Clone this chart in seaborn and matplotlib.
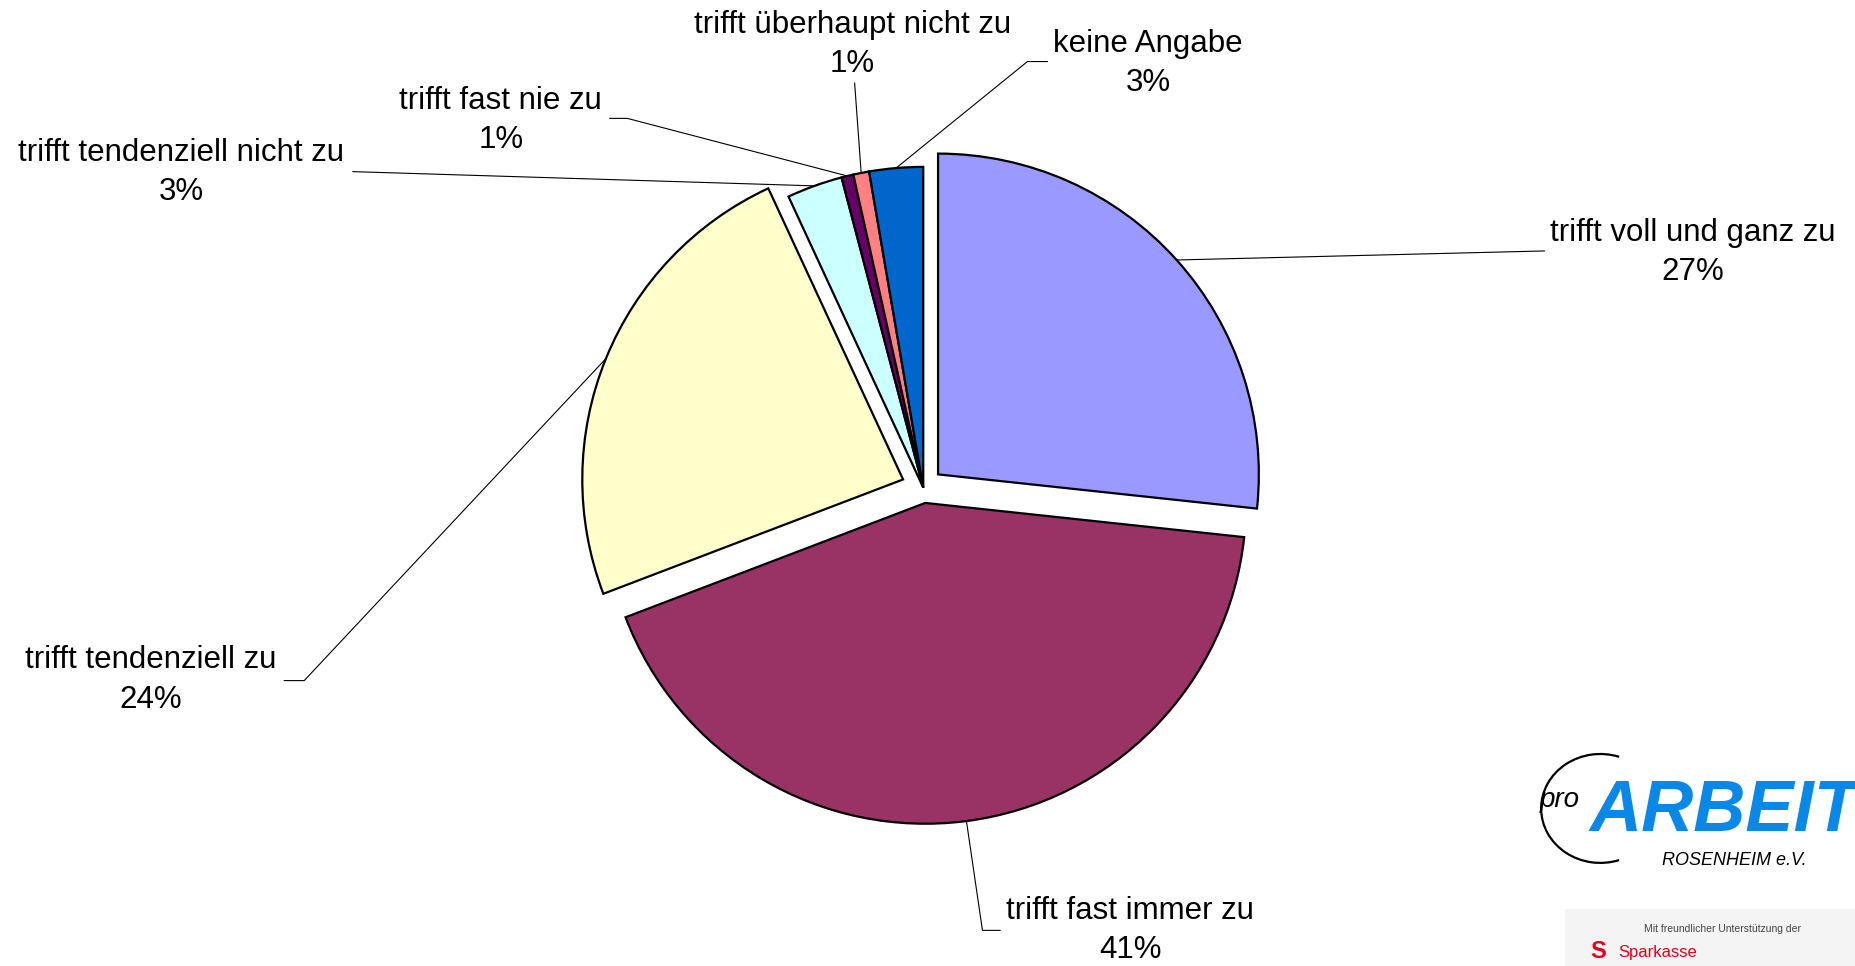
import numpy as np
import seaborn as sns
import matplotlib.pyplot as plt
from matplotlib.patches import Arc, Rectangle

# Antworten (Reihenfolge im Uhrzeigersinn ab 12 Uhr)
categories = ['trifft voll und ganz zu', 'trifft fast immer zu', 'trifft tendenziell zu',
              'trifft tendenziell nicht zu', 'trifft fast nie zu',
              'trifft überhaupt nicht zu', 'keine Angabe']
# slice sizes as drawn in the picture
shares = [26.7, 42.5, 23.9, 2.8, 0.6, 0.8, 2.7]
# percentage labels as printed in the picture
pct_labels = ['27%', '41%', '24%', '3%', '1%', '1%', '3%']
colors = ['#9999FF', '#993366', '#FFFFCC', '#CCFFFF', '#660066', '#FF8080', '#0066CC']
explode_frac = [0.062, 0.048, 0.068, 0.0, 0.0, 0.0, 0.0]

W, H = 1856, 966
S = W / 1568.0


def P(x, y):
    # reference layout coords -> figure pixels (y up)
    return x * S, H - y * S


sns.set_theme(style='white')
plt.rcParams['font.family'] = ['Liberation Sans', 'DejaVu Sans']

fig = plt.figure(figsize=(W / 100, H / 100), dpi=100)
ax = fig.add_axes([0, 0, 1, 1])

R = 271 * S
cx, cy = P(780, 412)
wedges, _ = ax.pie(shares, colors=colors, explode=[e * R for e in explode_frac],
                   startangle=90, counterclock=False, center=(cx, cy), radius=R,
                   wedgeprops=dict(edgecolor='black', linewidth=1.6))
ax.set_xlim(0, W)
ax.set_ylim(0, H)
ax.set_aspect('equal')
ax.axis('off')

# label text centres (line 1) and leader elbows, in reference layout coords
text_pos = [(1430, 197), (955, 770), (127, 558), (153, 129), (423, 85), (720, 21), (970, 37)]
leader = [[(1305, 212)],
          [(845, 786), (830, 786)],
          [(240, 575), (257, 575)],
          [(298, 145)],
          [(515, 100), (530, 100)],
          [(722, 70)],
          [(885, 52), (868, 52)]]

fs = 22.5
for w, name, pct, tp, pts in zip(wedges, categories, pct_labels, text_pos, leader):
    mid = np.deg2rad((w.theta1 + w.theta2) / 2)
    ax0 = w.center[0] + w.r * np.cos(mid)
    ay0 = w.center[1] + w.r * np.sin(mid)
    xs = [P(*p)[0] for p in pts] + [ax0]
    ys = [P(*p)[1] for p in pts] + [ay0]
    ax.plot(xs, ys, color='black', lw=0.8, zorder=0)
    x1, y1 = P(*tp)
    ax.text(x1, y1, name, ha='center', va='center', fontsize=fs, color='black')
    ax.text(x1, y1 - 33 * S, pct, ha='center', va='center', fontsize=fs, color='black')

# logo block (bottom right)
lx, ly = P(1352, 683)
ax.add_patch(Arc((lx, ly), 100 * S, 92 * S, theta1=70, theta2=290, color='black', lw=1.6))
ax.text(*P(1318, 676), 'pro', fontsize=20, style='italic', color='black',
        ha='center', va='center')
ax.text(*P(1343, 686), 'ARBEIT', fontsize=52, style='italic', weight='bold',
        color='#0A88E8', ha='left', va='center')
ax.text(*P(1465, 727), 'ROSENHEIM e.V.', fontsize=13, style='italic', color='black',
        ha='center', va='center')
bx, by = P(1322, 816)
ax.add_patch(Rectangle((bx, by), W - bx, 48 * S, color='#F4F4F4', lw=0))
ax.text(*P(1455, 785), 'Mit freundlicher Unterstützung der', fontsize=7.5,
        color='#444444', ha='center', va='center')
ax.text(*P(1350, 804), 'S', fontsize=17, weight='bold', color='#E2001A',
        ha='center', va='center')
ax.text(*P(1367, 805), 'Sparkasse', fontsize=12, color='#E2001A', ha='left', va='center')

fig.savefig('out.png', dpi=100)
